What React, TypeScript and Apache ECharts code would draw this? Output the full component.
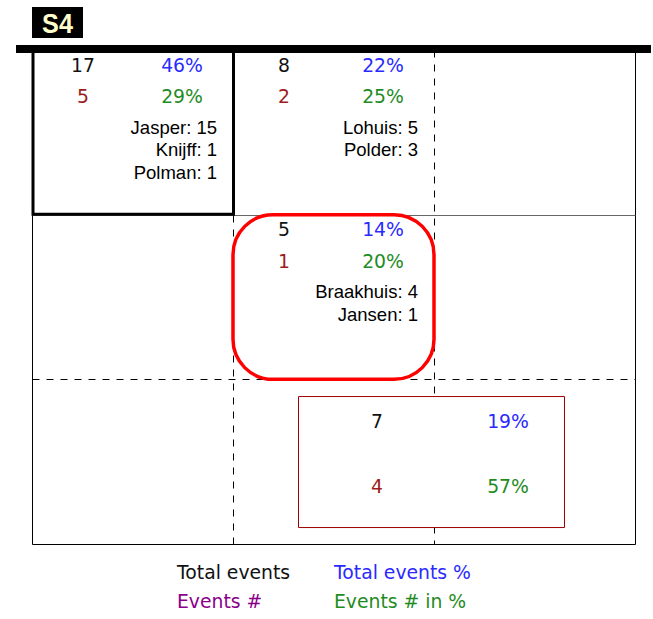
import React, { useEffect, useRef } from "react";
import * as echarts from "echarts";

// ---- data ----
const titleText = "S4";
const cellCols = [0, 1, 1];
const cellRows = [0, 0, 1];
const totalEvents = [17, 8, 5];
const totalEventsPct = [46, 22, 14];
const eventsNum = [5, 2, 1];
const eventsPct = [29, 25, 20];
const personNames = [
  ["Jasper", "Knijff", "Polman"],
  ["Lohuis", "Polder"],
  ["Braakhuis", "Jansen"],
];
const personCounts = [
  [15, 1, 1],
  [5, 3],
  [4, 1],
];
const cellMarks = ["bold", "none", "rounded"];

const boxCols = [1];
const boxRows = [2];
const boxTotal = [7];
const boxTotalPct = [19];
const boxEvents = [4];
const boxEventsPct = [57];

const legendLabels = ["Total events", "Total events %", "Events #", "Events # in %"];

// ---- styles ----
const C_TOTAL = "#111111";
const C_TOTAL_PCT = "#2a2aff";
const C_EVENTS = "#9b1c1c";
const C_EVENTS_PCT = "#1f8c1f";
const C_LEGEND_EVENTS = "#8b008b";
const legendColors = [C_TOTAL, C_TOTAL_PCT, C_LEGEND_EVENTS, C_EVENTS_PCT];
const NUM_FONT = '18.8px "DejaVu Sans"';
const NAME_FONT = '18.5px "Liberation Sans"';

export default function App() {
  const ref = useRef<HTMLDivElement>(null);

  useEffect(() => {
    if (!ref.current) return;
    const chart = echarts.init(ref.current, null, { renderer: "svg" });

    const cellData = cellCols.map((c, i) => [c, cellRows[i], i]);
    const boxData = boxCols.map((c, i) => [c, boxRows[i], i]);

    const txt = (text: string, x: number, y: number, fill: string, align: string, font: string) => ({
      type: "text",
      style: { text, x, y, fill, align, verticalAlign: "middle", font },
    });

    const option: any = {
      animation: false,
      grid: { left: 32, top: 50, width: 603, height: 494, show: false },
      xAxis: { type: "value", min: 0, max: 3, show: false },
      yAxis: { type: "value", min: 0, max: 3, inverse: true, show: false },
      graphic: [
        { type: "rect", shape: { x: 32, y: 7, width: 51, height: 31 }, style: { fill: "#000" } },
        {
          type: "text",
          x: 57.5,
          y: 24,
          scaleX: 0.9,
          style: {
            text: titleText, x: 0, y: 0, align: "center", verticalAlign: "middle",
            font: 'bold 28px "Liberation Sans"', fill: "#ffffcc",
          },
        },
        { type: "rect", shape: { x: 16, y: 45, width: 635, height: 8 }, style: { fill: "#000" }, z: 100 },
        ...legendLabels.map((t, i) => ({
          type: "text",
          style: {
            text: t, x: i % 2 === 0 ? 177 : 334, y: i < 2 ? 572 : 601,
            align: "left", verticalAlign: "middle", font: NUM_FONT, fill: legendColors[i],
          },
        })),
      ],
      series: [
        {
          type: "custom",
          name: "frame",
          coordinateSystem: "cartesian2d",
          data: [[0, 0]],
          z: 1,
          silent: true,
          renderItem: (params: any, api: any) => {
            const p = (x: number, y: number) => {
              const c = api.coord([x, y]);
              return [Math.round(c[0]) + 0.5, Math.round(c[1]) + 0.5];
            };
            const line = (a: number[], b: number[], stroke: string, dash?: number[]) => ({
              type: "line",
              shape: { x1: a[0], y1: a[1], x2: b[0], y2: b[1] },
              style: { stroke, lineWidth: 1, lineDash: dash || null },
            });
            const dash = [7, 7];
            return {
              type: "group",
              children: [
                line(p(0, 0), p(0, 3), "#000"),
                line(p(3, 0), p(3, 3), "#000"),
                line(p(0, 3), p(3, 3), "#000"),
                line(p(0, 1), p(3, 1), "#666"),
                line(p(0, 2), p(3, 2), "#000", dash),
                line(p(1, 1), p(1, 3), "#000", dash),
                line(p(2, 0), p(2, 3), "#000", dash),
              ],
            };
          },
        },
        {
          type: "custom",
          name: "cells",
          coordinateSystem: "cartesian2d",
          data: cellData,
          z: 3,
          renderItem: (params: any, api: any) => {
            const i = api.value(2);
            const tl = api.coord([api.value(0), api.value(1)]);
            const sz = api.size([1, 1]);
            const x0 = tl[0], y0 = tl[1];
            const children: any[] = [];
            const mark = cellMarks[i];
            if (mark === "bold") {
              children.push({
                type: "rect",
                shape: { x: x0 + 1, y: y0, width: sz[0] - 0.5, height: sz[1] - 0.5 },
                style: { fill: "none", stroke: "#000", lineWidth: 3 },
              });
            } else if (mark === "rounded") {
              children.push({
                type: "rect",
                shape: { x: x0, y: y0, width: sz[0], height: sz[1], r: 40 },
                style: { fill: "none", stroke: "#ff0000", lineWidth: 3.5 },
              });
            }
            children.push(txt(String(totalEvents[i]), x0 + 51, y0 + 15, C_TOTAL, "center", NUM_FONT));
            children.push(txt(totalEventsPct[i] + "%", x0 + 150, y0 + 15, C_TOTAL_PCT, "center", NUM_FONT));
            children.push(txt(String(eventsNum[i]), x0 + 51, y0 + 46.5, C_EVENTS, "center", NUM_FONT));
            children.push(txt(eventsPct[i] + "%", x0 + 150, y0 + 46.5, C_EVENTS_PCT, "center", NUM_FONT));
            personNames[i].forEach((n, k) => {
              children.push(
                txt(n + ": " + personCounts[i][k], x0 + 185, y0 + 77 + k * 22.7, "#000", "right", NAME_FONT)
              );
            });
            return { type: "group", children };
          },
        },
        {
          type: "custom",
          name: "box",
          coordinateSystem: "cartesian2d",
          data: boxData,
          z: 4,
          renderItem: (params: any, api: any) => {
            const i = api.value(2);
            const tl = api.coord([api.value(0), api.value(1)]);
            const x0 = tl[0], y0 = tl[1];
            return {
              type: "group",
              children: [
                {
                  type: "rect",
                  shape: { x: x0 + 65.5, y: y0 + 17.2, width: 266, height: 131 },
                  style: { fill: "#fff", stroke: "#a00000", lineWidth: 1 },
                },
                txt(String(boxTotal[i]), x0 + 144, y0 + 42, C_TOTAL, "center", NUM_FONT),
                txt(boxTotalPct[i] + "%", x0 + 275, y0 + 42, C_TOTAL_PCT, "center", NUM_FONT),
                txt(String(boxEvents[i]), x0 + 144, y0 + 107, C_EVENTS, "center", NUM_FONT),
                txt(boxEventsPct[i] + "%", x0 + 275, y0 + 107, C_EVENTS_PCT, "center", NUM_FONT),
              ],
            };
          },
        },
      ],
    };

    chart.setOption(option);
    return () => chart.dispose();
  }, []);

  return <div ref={ref} style={{ width: 653, height: 619, position: "absolute", left: 0, top: 0 }} />;
}
